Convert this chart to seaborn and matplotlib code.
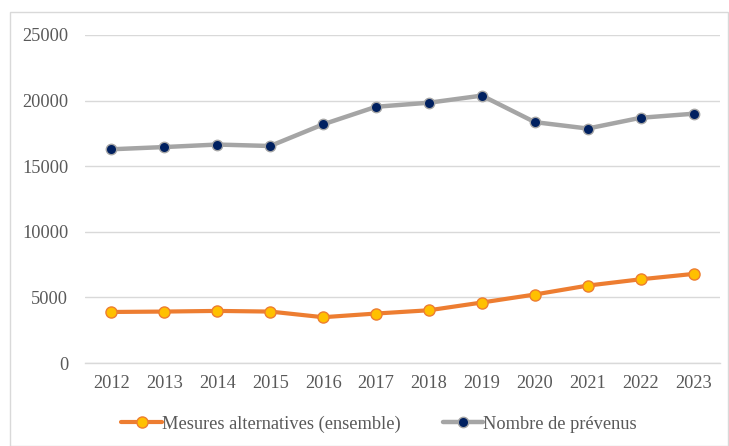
import matplotlib
matplotlib.use("Agg")
import matplotlib.pyplot as plt
import seaborn as sns
import pandas as pd
from matplotlib.patches import Rectangle

years = ["2012", "2013", "2014", "2015", "2016", "2017", "2018", "2019", "2020", "2021", "2022", "2023"]
mesures = [3890, 3920, 3970, 3920, 3490, 3770, 4020, 4610, 5220, 5900, 6380, 6790]
prevenus = [16290, 16460, 16650, 16540, 18190, 19530, 19840, 20380, 18360, 17870, 18690, 19000]
yticks = [0, 5000, 10000, 15000, 20000, 25000]

sns.set_theme(style="white")
plt.rcParams["font.family"] = ["Liberation Serif", "DejaVu Serif"]

df_m = pd.DataFrame({"year": years, "value": mesures})
df_p = pd.DataFrame({"year": years, "value": prevenus})

fig = plt.figure(figsize=(7.29, 4.46), dpi=100)
ax = fig.add_axes([85/729, 1-363/446, (720-85)/729, (363-35)/446])

sns.lineplot(data=df_m, x="year", y="value", ax=ax, color="#ED7D31", linewidth=3,
             marker="o", markersize=8, markerfacecolor="#FFC000", markeredgecolor="#ED7D31",
             markeredgewidth=1, label="Mesures alternatives (ensemble)", zorder=3)
sns.lineplot(data=df_p, x="year", y="value", ax=ax, color="#A5A5A5", linewidth=3.2,
             marker="o", markersize=7.5, markerfacecolor="#002060", markeredgecolor="#A5A5A5",
             markeredgewidth=1, label="Nombre de prévenus", zorder=3)

ax.set_xlim(-0.5, len(years) - 0.5)
ax.set_ylim(0, 25000)
ax.set_yticks(yticks)
ax.set_yticklabels([str(v) for v in yticks])
ax.grid(axis="y", color="#D9D9D9", linewidth=1)
ax.set_axisbelow(True)
for s in ["top", "right", "left"]:
    ax.spines[s].set_visible(False)
ax.spines["bottom"].set_color("#D9D9D9")
ax.spines["bottom"].set_linewidth(1)
ax.tick_params(axis="both", length=0, labelsize=13.2, colors="#595959")
ax.tick_params(axis="y", pad=12)
ax.tick_params(axis="x", pad=9)
ax.set_xlabel("")
ax.set_ylabel("")

leg = ax.legend(loc="center", bbox_to_anchor=(379/729, 1-424/446), bbox_transform=fig.transFigure,
                ncol=2, frameon=False, fontsize=13.2, handlelength=2.2, handletextpad=0.0,
                columnspacing=2.3)
for t in leg.get_texts():
    t.set_color("#595959")

fig.patches.append(Rectangle((10/729, 0), 718/729, 1-12/446, transform=fig.transFigure,
                             fill=False, edgecolor="#D9D9D9", linewidth=1))

fig.savefig("out.png", dpi=100)
